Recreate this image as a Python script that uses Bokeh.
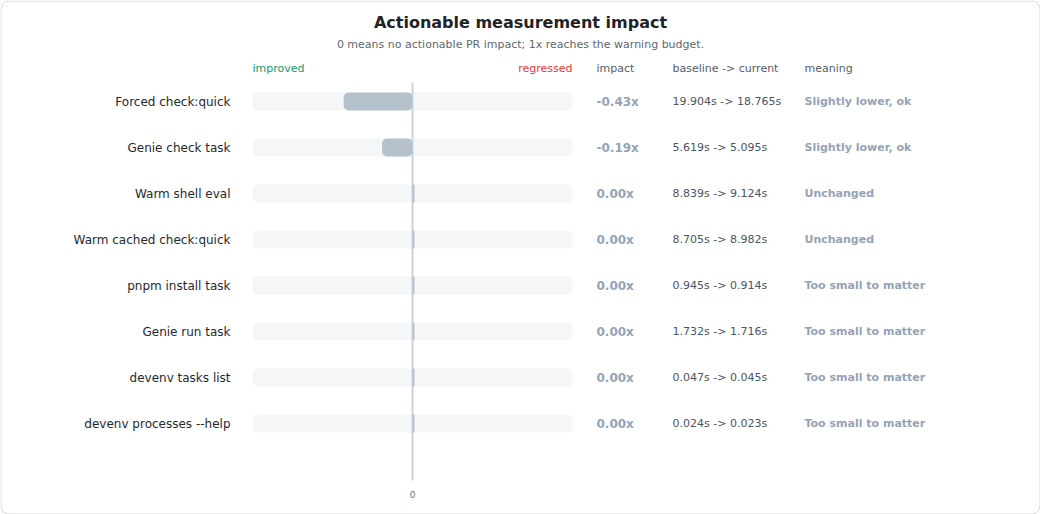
from bokeh.plotting import figure
from bokeh.models import ColumnDataSource, Range1d, Label
from bokeh.core.properties import value
from bokeh.embed import file_html
from bokeh.resources import INLINE

tasks = ["Forced check:quick", "Genie check task", "Warm shell eval",
         "Warm cached check:quick", "pnpm install task", "Genie run task",
         "devenv tasks list", "devenv processes --help"]
impact = [-0.43, -0.19, 0.00, 0.00, 0.00, 0.00, 0.00, 0.00]
baseline = [19.904, 5.619, 8.839, 8.705, 0.945, 1.732, 0.047, 0.024]
current = [18.765, 5.095, 9.124, 8.982, 0.914, 1.716, 0.045, 0.023]
meaning = ["Slightly lower, ok", "Slightly lower, ok", "Unchanged", "Unchanged",
           "Too small to matter", "Too small to matter", "Too small to matter",
           "Too small to matter"]

FONT = "DejaVu Sans"
W, H = 1040, 514
SCALE = 160      # pixels for 1x
ZERO_PX = 412    # where 0 sits
ROW0_PX = 101    # centre of first row
ROW_STEP = 46
BAR_H = 18 / ROW_STEP


def xpx(px):
    return (px - ZERO_PX) / SCALE


def ypx(py):
    return (py - ROW0_PX) / ROW_STEP


p = figure(width=W, height=H, output_backend="svg", toolbar_location=None,
           x_range=Range1d(xpx(0), xpx(W)), y_range=Range1d(ypx(H), ypx(0)),
           x_axis_location=None, y_axis_location=None,
           min_border=0, min_border_left=0, min_border_right=0,
           min_border_top=0, min_border_bottom=0)
p.grid.visible = False
p.outline_line_color = None
p.background_fill_color = "white"
p.border_fill_color = "white"

# card
p.quad(left=[xpx(0.5)], right=[xpx(W - 0.5)], top=[ypx(0.5)], bottom=[ypx(H - 0.5)],
       fill_color="white", line_color="#d3d9e2", line_width=1, border_radius=8)

rows = list(range(len(tasks)))
left = [min(v, 0) for v in impact]
right = [max(v, 0) if v != 0 else 2 / SCALE for v in impact]
src = ColumnDataSource(data=dict(
    row=rows, task=tasks, impact=impact, left=left, right=right,
    top=[r - BAR_H / 2 for r in rows], bottom=[r + BAR_H / 2 for r in rows],
    impact_txt=[f"{v:.2f}x" for v in impact],
    change=[f"{b:.3f}s -> {c:.3f}s" for b, c in zip(baseline, current)],
    meaning=meaning,
))

# tracks
p.quad(left=-1, right=1, top="top", bottom="bottom", source=src,
       fill_color="#f4f6f8", line_color=None, border_radius=5)
# zero line
p.segment(x0=[0], x1=[0], y0=[ypx(82)], y1=[ypx(480)], line_color="#cdd2d9", line_width=2)
# bars
p.quad(left="left", right="right", top="top", bottom="bottom", source=src,
       fill_color="#b6c1ce", line_color=None, border_radius=5)

p.text(x=xpx(230), y="row", text="task", source=src, text_font=value(FONT),
       text_font_size="12px", text_color="#24292f", text_align="right",
       text_baseline="middle")
p.text(x=xpx(596), y="row", text="impact_txt", source=src, text_font=value(FONT),
       text_font_size="12px", text_font_style="bold", text_color="#94a3b8",
       text_baseline="middle")
p.text(x=xpx(672), y="row", text="change", source=src, text_font=value(FONT),
       text_font_size="11px", text_color="#4b5563", text_baseline="middle")
p.text(x=xpx(804), y="row", text="meaning", source=src, text_font=value(FONT),
       text_font_size="11px", text_font_style="bold", text_color="#94a3b8",
       text_baseline="middle")


def label(txt, px, py, size="11px", color="#555d68", align="left", style="normal"):
    p.add_layout(Label(x=xpx(px), y=ypx(py), text=txt, text_font=FONT,
                       text_font_size=size, text_color=color, text_align=align,
                       text_baseline="middle", text_font_style=style))


label("Actionable measurement impact", 520, 22, size="16px", color="#1f2328",
      align="center", style="bold")
label("0 means no actionable PR impact; 1x reaches the warning budget.", 520, 44,
      size="11px", color="#5f6670", align="center")
label("improved", 252, 68, color="#169e6a")
label("regressed", 572, 68, color="#e23b3b", align="right")
label("impact", 596, 68)
label("baseline -> current", 672, 68)
label("meaning", 804, 68)
label("0", 412, 494, size="9px", color="#6b7078", align="center")

open("out.html", "w").write(file_html(p, INLINE))
